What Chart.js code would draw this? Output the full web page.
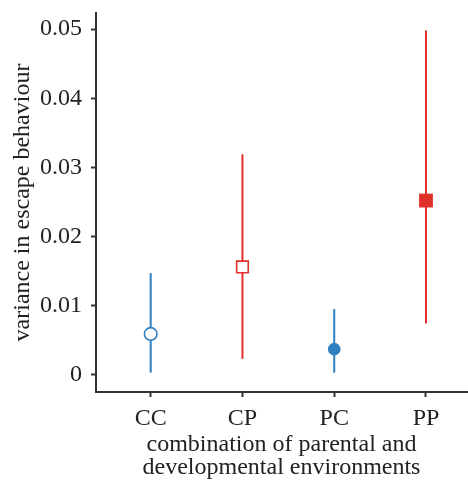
<!DOCTYPE html>
<html>
<head>
<meta charset="utf-8">
<script src="https://cdn.jsdelivr.net/npm/chart.js@4.4.0/dist/chart.umd.min.js"></script>
<style>
  html, body { margin: 0; padding: 0; background: #fff; overflow: hidden; }
  #myChart { display: block; }
</style>
</head>
<body>
<canvas id="myChart" width="468" height="485"></canvas>
<script>
// groups: parental x developmental environment
const categories = ['CC', 'CP', 'PC', 'PP'];
const estimates = [0.0059, 0.0156, 0.0037, 0.0252];
const lowerCI = [0.0003, 0.0023, 0.0003, 0.0074];
const upperCI = [0.0147, 0.0319, 0.0095, 0.0498];
const yTicks = [0, 0.01, 0.02, 0.03, 0.04, 0.05];

const BLUE = '#2f7fbf';
const RED = '#e0302a';
const colours = [BLUE, RED, BLUE, RED];
const filled = [false, false, true, true];
const shapes = ['circle', 'rect', 'circle', 'rect'];

const serif = "'Liberation Serif', 'DejaVu Serif', serif";

// keep the plot box fixed: no extra room for overhanging tick labels
function noLabelPadding(axis) {
    axis.paddingLeft = 0;
    axis.paddingRight = 0;
    axis.paddingTop = 0;
    axis.paddingBottom = 0;
}

document.addEventListener('DOMContentLoaded', function () {
    const ctx = document.getElementById('myChart').getContext('2d');

    // one vertical segment per group for the interval
    const intervalSets = categories.map((c, i) => ({
        type: 'line',
        data: [{ x: i + 1, y: lowerCI[i] }, { x: i + 1, y: upperCI[i] }],
        borderColor: colours[i],
        borderWidth: 2,
        pointRadius: 0,
        fill: false,
        order: 1
    }));

    const pointSet = {
        type: 'scatter',
        data: estimates.map((v, i) => ({ x: i + 1, y: v })),
        pointStyle: shapes,
        pointRadius: shapes.map((s, i) => s === 'rect' ? (filled[i] ? 9.8 : 8.2) : 6.3),
        pointBackgroundColor: colours.map((c, i) => filled[i] ? c : '#ffffff'),
        pointBorderColor: colours,
        pointBorderWidth: filled.map(f => f ? 0 : 1.6),
        order: 0
    };

    new Chart(ctx, {
        type: 'scatter',
        data: { datasets: [pointSet, ...intervalSets] },
        options: {
            responsive: false,
            animation: false,
            layout: { autoPadding: false, padding: { top: 13, right: 1, left: 0, bottom: 0 } },
            plugins: {
                legend: { display: false },
                tooltip: { enabled: false }
            },
            scales: {
                x: {
                    type: 'linear',
                    min: 0.404,
                    max: 4.447,
                    afterBuildTicks: axis => {
                        axis.ticks = categories.map((c, i) => ({ value: i + 1 }));
                    },
                    afterFit: axis => {
                        axis.height = 93;
                        noLabelPadding(axis);
                    },
                    grid: {
                        display: true,
                        drawOnChartArea: false,
                        drawTicks: true,
                        tickLength: 5,
                        tickWidth: 2,
                        tickColor: '#333'
                    },
                    border: { display: true, color: '#333', width: 2 },
                    ticks: {
                        color: '#222',
                        padding: 7,
                        maxRotation: 0,
                        autoSkip: false,
                        font: { family: serif, size: 24 },
                        callback: value => categories[Math.round(value) - 1]
                    },
                    title: {
                        display: true,
                        text: ['combination of parental and', 'developmental environments'],
                        color: '#222',
                        font: { family: serif, size: 24, lineHeight: 0.96 },
                        padding: { top: 0, bottom: 6 }
                    }
                },
                y: {
                    type: 'linear',
                    min: -0.0025,
                    max: 0.05234,
                    afterBuildTicks: axis => {
                        axis.ticks = yTicks.map(v => ({ value: v }));
                    },
                    afterFit: axis => {
                        axis.width = 96;
                        noLabelPadding(axis);
                    },
                    grid: {
                        display: true,
                        drawOnChartArea: false,
                        drawTicks: true,
                        tickLength: 5,
                        tickWidth: 2,
                        tickColor: '#333'
                    },
                    border: { display: true, color: '#333', width: 2 },
                    ticks: {
                        color: '#222',
                        padding: 9,
                        autoSkip: false,
                        font: { family: serif, size: 24 },
                        callback: value => value === 0 ? '0' : value.toFixed(2)
                    },
                    title: {
                        display: true,
                        text: 'variance in escape behaviour',
                        color: '#222',
                        font: { family: serif, size: 24 },
                        padding: { top: 8, bottom: 0 }
                    }
                }
            }
        }
    });
});
</script>
</body>
</html>
